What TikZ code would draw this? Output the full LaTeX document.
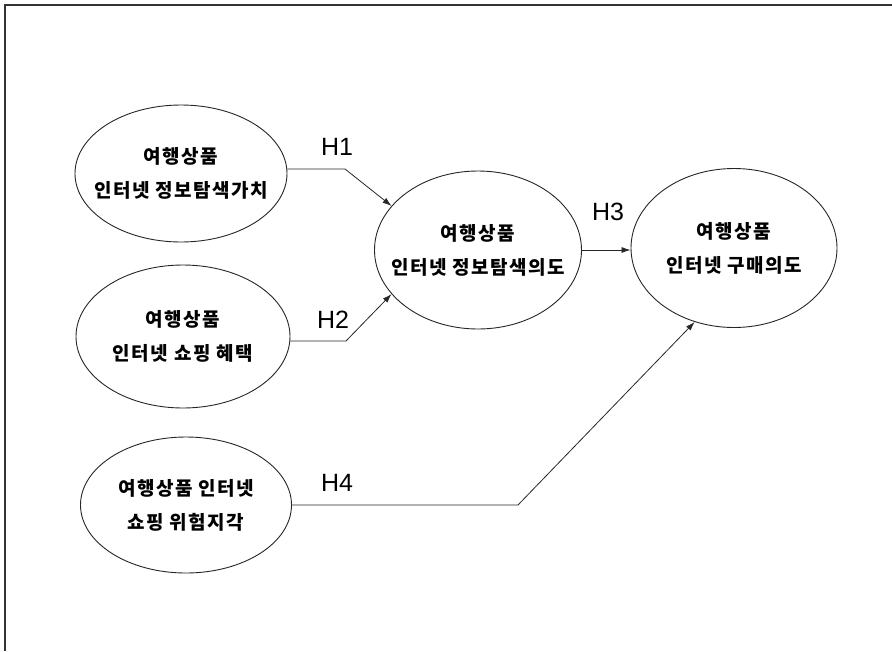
\documentclass[tikz,border=0pt]{standalone}
\usepackage{fontspec}
\setmainfont{Liberation Sans}
\newfontfamily\kr{Noto Sans CJK KR}[LetterSpace=8]
\usetikzlibrary{shapes.geometric,arrows.meta}
\begin{document}
\begin{tikzpicture}[x=1pt,y=-1pt,
  construct/.style={draw=black!85, line width=0.9pt, ellipse, inner xsep=-40pt, inner ysep=0pt, align=center,
    font=\kr\bfseries\fontsize{19}{34}\selectfont},
  hlabel/.style={font=\fontsize{25}{28}\selectfont, inner sep=0pt},
  link/.style={draw=black!85, line width=0.8pt, -{Latex[length=9pt,width=6pt]}}]
\useasboundingbox (0,0) rectangle (892,651);
\draw[line width=1.3pt, black!80] (892,5) -- (5,5) -- (5,651);
% constructs
\node[construct, minimum width=212pt, minimum height=137pt] (e1) at (181,173.5) {여행상품\\인터넷 정보탐색가치};
\node[construct, minimum width=214pt, minimum height=143pt] (e2) at (183,336.5) {여행상품\\인터넷 쇼핑 혜택};
\node[construct, minimum width=211pt, minimum height=136pt] (e3) at (186,505) {여행상품 인터넷\\쇼핑 위험지각};
\node[construct, minimum width=207pt, minimum height=158pt] (e4) at (478,250) {여행상품\\인터넷 정보탐색의도};
\node[construct, minimum width=206pt, minimum height=159pt] (e5) at (734,248) {여행상품\\인터넷 구매의도};
% bend points
\coordinate (c1) at (345,169);
\coordinate (c2) at (346,341);
\coordinate (c4) at (518,505);
% connectors
\draw[link] (e1.east |- c1) -- (c1) -- (e4.153);
\draw[link] (e2.east |- c2) -- (c2) -- (e4.207);
\draw[link] (e4.east) -- (e4.east -| e5.west);
\draw[link] (e3.east |- c4) -- (c4) -- (e5.242);
% labels
\node[hlabel] (h1) at (337,147) {H1};
\node[hlabel] (h2) at (333,320) {H2};
\node[hlabel] (h3) at (608,212) {H3};
\node[hlabel] (h4) at (337,483) {H4};
\end{tikzpicture}
\end{document}
